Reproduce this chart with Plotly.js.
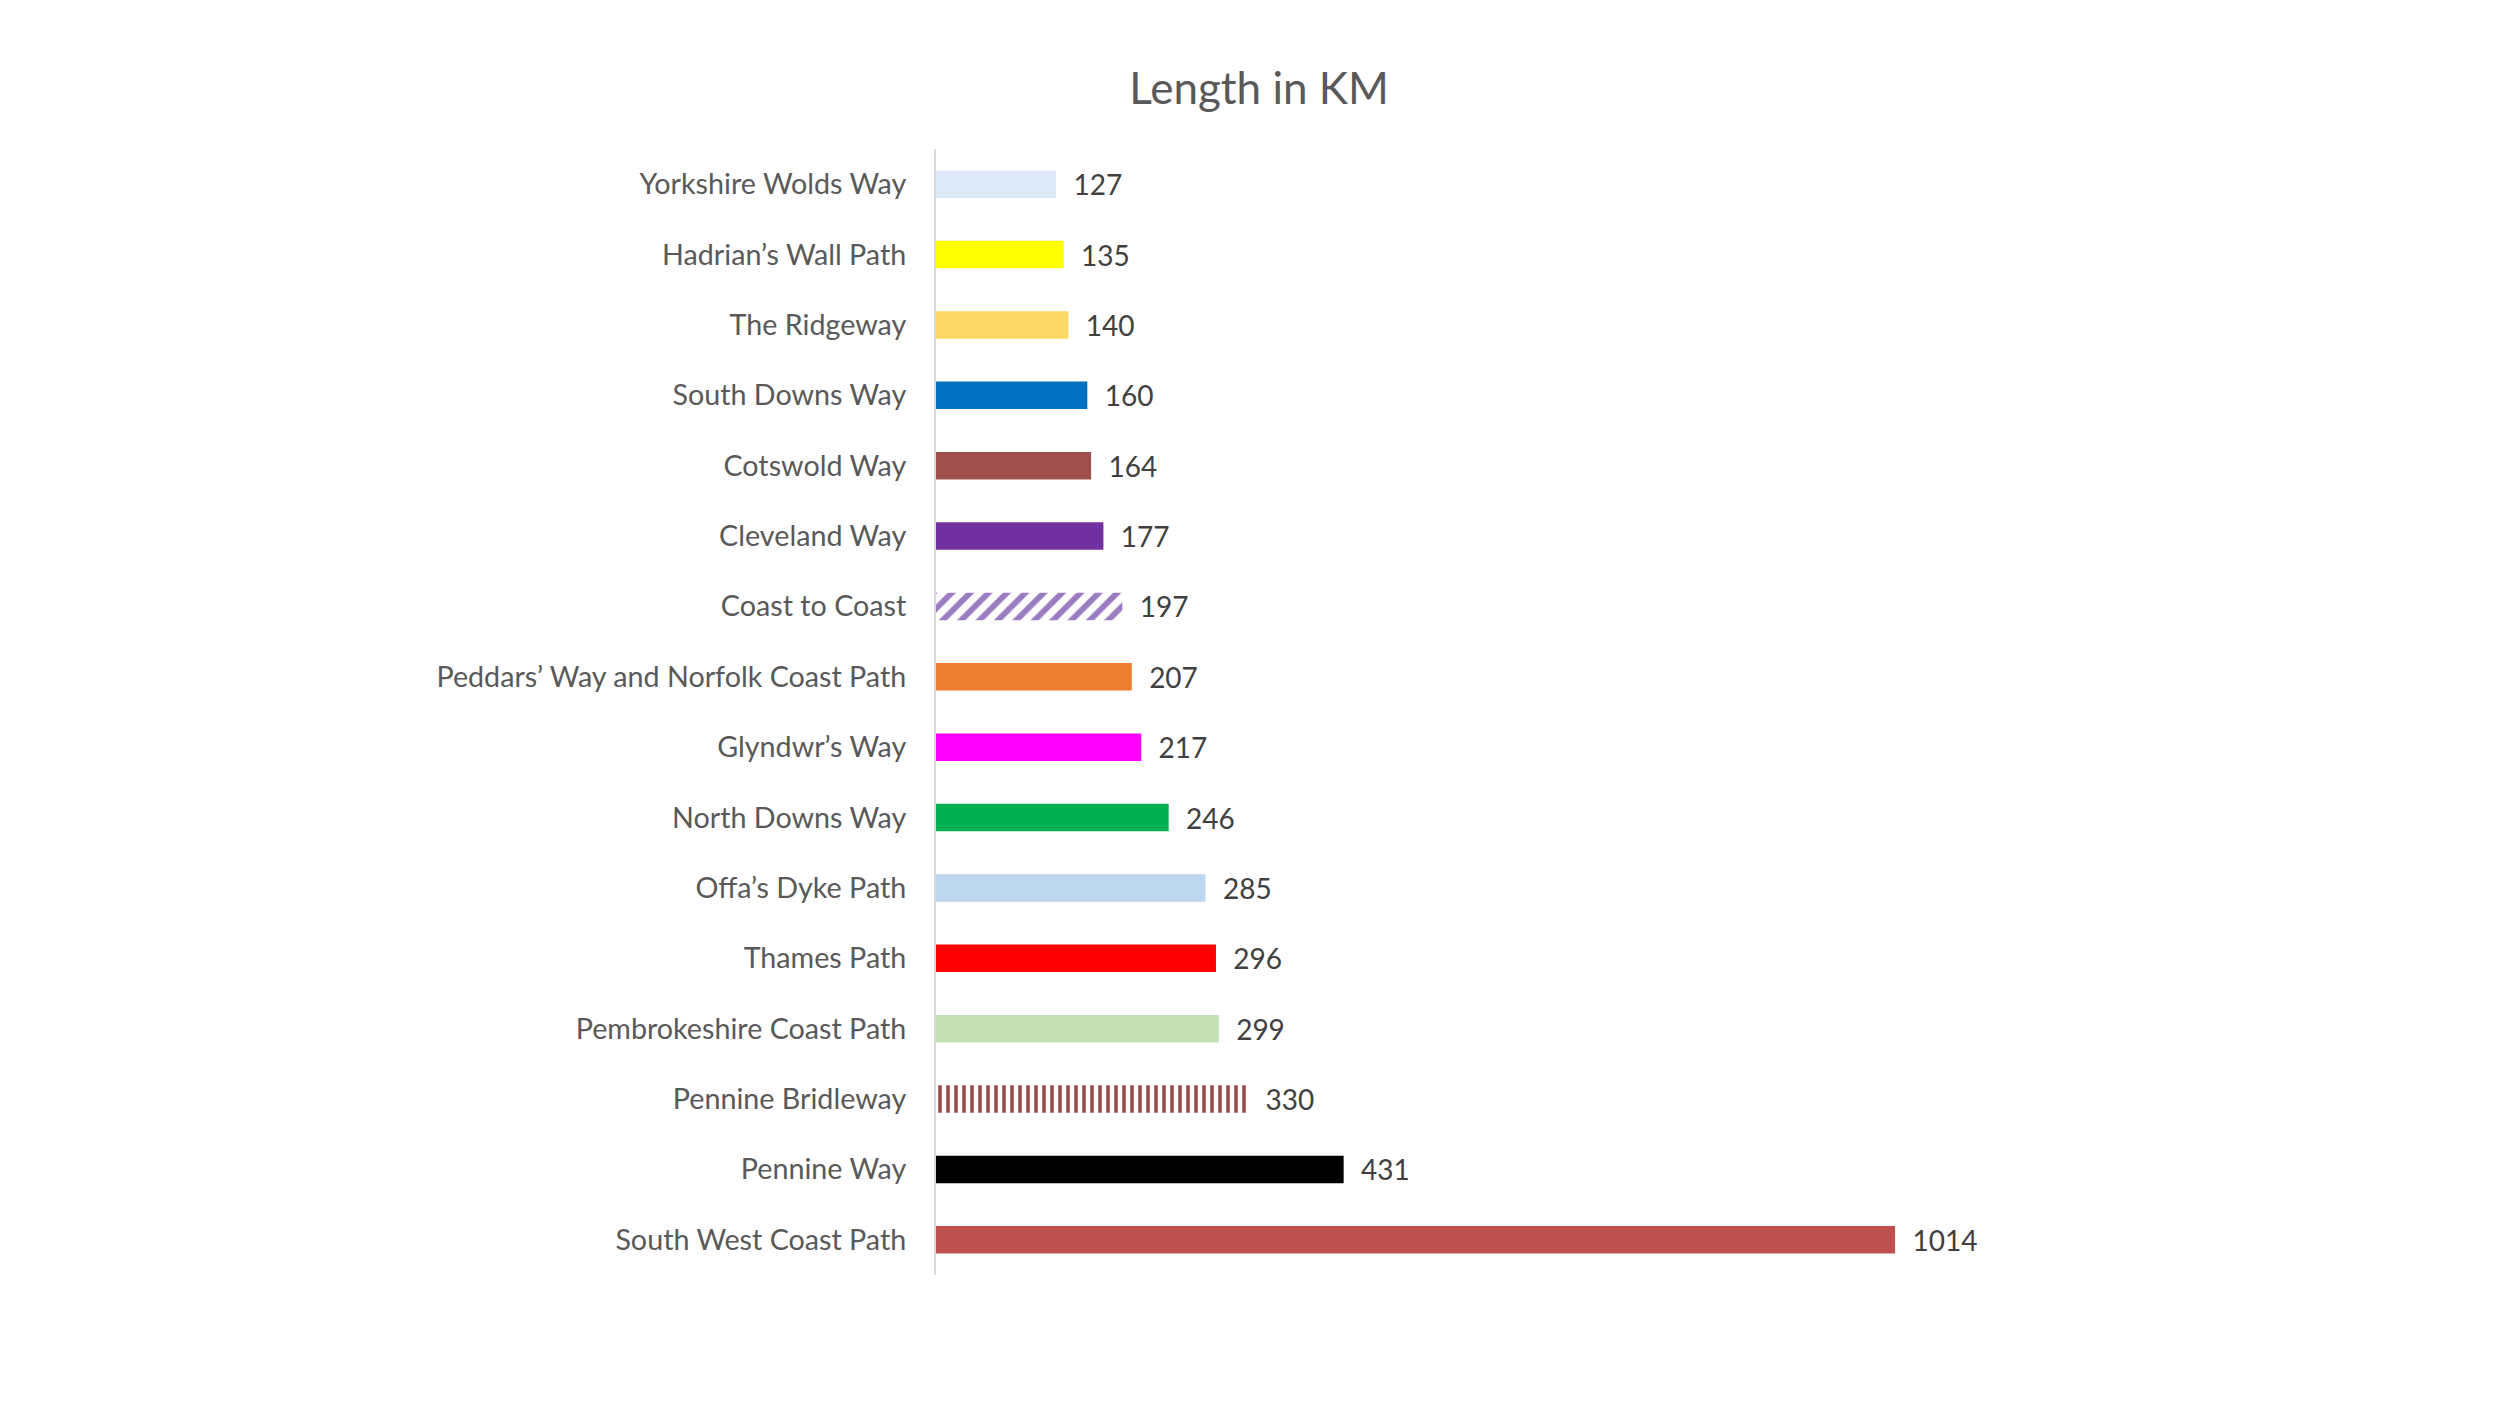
<!DOCTYPE html>
<html>
<head>
<meta charset="utf-8">
<script src="https://cdn.plot.ly/plotly-3.0.1.min.js"></script>
<style>
  html, body { margin: 0; padding: 0; background: #fff; }
  #chart { width: 2500px; height: 1406px; }
</style>
</head>
<body>
<div id="chart"></div>
<script>
// National trails, top to bottom as shown
var trails = [
  'Yorkshire Wolds Way', 'Hadrian\u2019s Wall Path', 'The Ridgeway', 'South Downs Way',
  'Cotswold Way', 'Cleveland Way', 'Coast to Coast', 'Peddars\u2019 Way and Norfolk Coast Path',
  'Glyndwr\u2019s Way', 'North Downs Way', 'Offa\u2019s Dyke Path', 'Thames Path',
  'Pembrokeshire Coast Path', 'Pennine Bridleway', 'Pennine Way', 'South West Coast Path'
];
var lengthKm = [127, 135, 140, 160, 164, 177, 197, 207, 217, 246, 285, 296, 299, 330, 431, 1014];

var barColours = [
  '#dde9f6', '#ffff00', '#ffd966', '#0070c0',
  '#9f4f4d', '#7030a0', '#9b7bc2', '#ed7d31',
  '#ff00ff', '#00b050', '#bdd7ee', '#ff0000',
  '#c5e0b4', '#9b4a4a', '#000000', '#c0504d'
];
// two bars are hatched in the original
var hatch = ['', '', '', '', '', '', '/', '', '', '', '', '', '', '|', '', ''];
var hatchSize = [8, 8, 8, 8, 8, 8, 13, 8, 8, 8, 8, 8, 8, 8, 8, 8];

var trace = {
  type: 'bar',
  orientation: 'h',
  x: lengthKm,
  y: trails,
  marker: {
    color: barColours,
    line: { width: 0 },
    pattern: { shape: hatch, size: hatchSize, solidity: 0.45, fillmode: 'replace' }
  },
  texttemplate: '\u00a0\u00a0%{x}',
  textposition: 'outside',
  constraintext: 'none',
  cliponaxis: false,
  textfont: { family: 'Lato, sans-serif', size: 28, color: '#404040' },
  hoverinfo: 'x+y'
};

var layout = {
  width: 2500,
  height: 1406,
  paper_bgcolor: '#ffffff',
  plot_bgcolor: '#ffffff',
  margin: { l: 936, r: 429, t: 149, b: 131 },
  bargap: 0.61,
  showlegend: false,
  title: {
    text: 'Length in KM',
    font: { family: 'Lato, sans-serif', size: 44, color: '#595959' },
    xref: 'container', x: 0.5036,
    yref: 'container', y: 0.937, yanchor: 'middle'
  },
  xaxis: {
    range: [0, 1200],
    visible: false,
    fixedrange: true
  },
  yaxis: {
    type: 'category',
    range: [15.5, -0.5],
    showline: true,
    linecolor: '#d9d9d9',
    linewidth: 2,
    showgrid: false,
    zeroline: false,
    ticks: '',
    ticklabelstandoff: 22,
    tickfont: { family: 'Lato, sans-serif', size: 28.7, color: '#595959' }
  }
};

Plotly.newPlot('chart', [trace], layout, { displayModeBar: false, staticPlot: true });
</script>
</body>
</html>
